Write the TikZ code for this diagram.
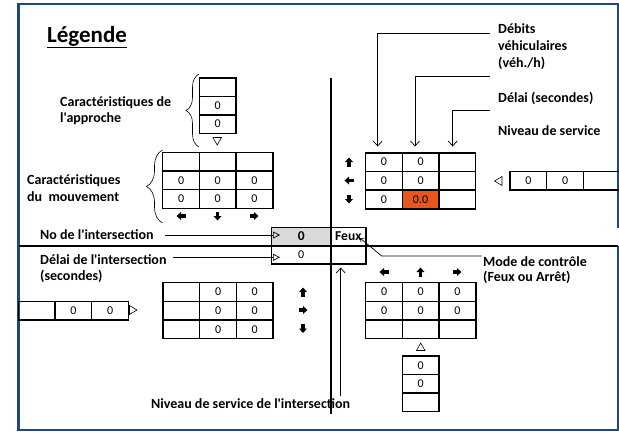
\documentclass[tikz,border=0pt]{standalone}
\usepackage{fontspec}
\setmainfont{Carlito}[Ligatures=TeXOff]
\usetikzlibrary{arrows.meta,decorations.pathreplacing}
\definecolor{frameblue}{RGB}{31,73,125}
\definecolor{cellorange}{RGB}{232,86,30}
\definecolor{cellgray}{RGB}{217,217,217}
\tikzset{
  cellbox/.style={draw, line width=1.4pt, minimum width=36.7pt, minimum height=18.6pt, inner sep=0pt, font=\fontsize{12}{12}\selectfont},
  lbl/.style={font=\bfseries\fontsize{14}{16}\selectfont, anchor=base west, inner sep=0pt},
  road/.style={line width=1.6pt},
  barbarrow/.style={line width=0.7pt, -{Straight Barb[length=5pt,width=9pt]}},
  triarrow/.style={line width=0.7pt, -{Triangle[open,length=7pt,width=7pt]}},
  tri/.style={line width=0.6pt},
  blk/.pic={\fill (-4.5,-1.7) rectangle (0.5,1.7); \fill (0,-4) -- (4.5,0) -- (0,4) -- cycle;},
  bracestyle/.style={line width=0.6pt, decorate}
}
\newcommand{\gridrow}[4]{%
  \foreach \t [count=\i] in {#4} \node[cellbox] (#1\i) at ({#2+36.7*\i-18.35},#3) {\t};}
\begin{document}
\begin{tikzpicture}[x=1pt,y=-1pt]
\useasboundingbox (0,0) rectangle (619,432);
% frame
\draw[frameblue, line width=1.6pt] (618,228) -- (618,4) -- (18,4) -- (18,430) -- (618,430) -- (618,246);
\draw[frameblue, line width=2.6pt] (18.3,4) -- (18.3,430);
% roads
\draw[road] (330.7,78) -- (330.7,414);
\draw[road] (19,245.8) -- (618,245.8);
% title
\node[font=\bfseries\fontsize{23}{26}\selectfont, anchor=base west, inner sep=0pt] (title) at (47,42) {\underline{Légende}};
% legend: approach column
\foreach \t [count=\i] in {{},0,0} \node[cellbox] (ap\i) at (217.7,{78.3+18.33*\i-9.17}) {\t};
\draw[tri] (213,137.5) -- (221.5,137.5) -- (217.2,145) -- cycle;
\draw[bracestyle, decoration={brace, amplitude=13pt}] (199,147) -- (199,74);
\node[lbl] (lap1) at (60,106) {Caractéristiques de};
\node[lbl] (lap2) at (60,122.5) {l'approche};
% legend: movement grid
\gridrow{ul1-}{162.7}{161.8}{{},{},{}}
\gridrow{ul2-}{162.7}{180.4}{0,0,0}
\gridrow{ul3-}{162.7}{199.0}{0,0,0}
\pic[rotate=180] at (181,216) {blk};
\pic[rotate=270] at (217.5,216) {blk};
\pic at (254,216) {blk};
\draw[bracestyle, decoration={brace, amplitude=16pt}] (162.5,223) -- (162.5,150);
\node[lbl] (lmv1) at (27,184.5) {Caractéristiques};
\node[lbl] (lmv2) at (27,201) {du~ mouvement};
% upper right grid
\gridrow{ur1-}{365.5}{162.1}{0,0,{}}
\gridrow{ur2-}{365.5}{180.8}{0,0,{}}
\node[cellbox] (ur3-1) at (383.85,199.5) {0};
\node[cellbox, fill=cellorange] (ur3-2) at (420.55,199.5) {0.0};
\node[cellbox] (ur3-3) at (457.25,199.5) {};
\pic[rotate=90] at (349,162) {blk};
\pic[rotate=180] at (349,180.5) {blk};
\pic[rotate=270] at (349,199) {blk};
% east approach
\draw[tri] (502,176.5) -- (502,185.5) -- (494.5,181) -- cycle;
\gridrow{ea}{510}{180.8}{0,0,{}}
% labels upper right
\node[lbl] (ldeb1) at (498,33) {Débits};
\node[lbl] (ldeb2) at (498,50) {véhiculaires};
\node[lbl] (ldeb3) at (498,67) {(véh./h)};
\node[lbl] (ldel) at (498,102.5) {Délai (secondes)};
\node[lbl] (lniv) at (498,135.5) {Niveau de service};
\coordinate (s1) at (490,33);
\coordinate (s2) at (490,76.7);
\coordinate (s3) at (490,110);
\coordinate (t1) at (377.7,146.5);
\coordinate (t2) at (415,146.5);
\coordinate (t3) at (452.7,146.5);
\draw[barbarrow] (s1) -| (t1);
\draw[barbarrow] (s2) -| (t2);
\draw[barbarrow] (s3) -| (t3);
% central box
\node[cellbox, fill=cellgray, minimum width=59pt, font=\bfseries\fontsize{13.5}{13}\selectfont] (in1) at (301.2,236.5) {0};
\node[cellbox, minimum width=35.3pt, font=\bfseries\fontsize{13.5}{13}\selectfont] (in2) at (348.35,236.5) {Feux};
\node[cellbox, minimum width=59pt] (in3) at (301.2,254.85) {0};
\node[cellbox, minimum width=35.3pt] (in4) at (348.35,254.85) {};
% labels centre
\node[lbl] (lno) at (40,239.5) {No de l'intersection};
\node[lbl] (ldi1) at (40,264) {Délai de l'intersection};
\node[lbl] (ldi2) at (40,280.5) {(secondes)};
\coordinate (a1) at (165,235);
\coordinate (b1) at (280,235);
\coordinate (a2) at (173,257.3);
\coordinate (b2) at (280,257.3);
\draw[triarrow] (a1) -- (b1);
\draw[triarrow] (a2) -- (b2);
\node[lbl] (lmode1) at (483,266) {Mode de contrôle};
\node[lbl] (lmode2) at (483,281.5) {(Feux ou Arrêt)};
\coordinate (m1) at (481.7,256);
\coordinate (m2) at (381.7,256);
\coordinate (m3) at (360,238);
\draw[line width=0.7pt, -{Straight Barb[length=3pt,width=5pt]}] (m1) -- (m2) -- (m3);
% lower left grid
\gridrow{ll1-}{163}{292}{{},0,0}
\gridrow{ll2-}{163}{310.6}{{},0,0}
\gridrow{ll3-}{163}{329.2}{{},0,0}
\pic[rotate=90] at (303,292) {blk};
\pic at (303,310) {blk};
\pic[rotate=270] at (303,328.5) {blk};
% west approach
\gridrow{wa}{18.3}{310.6}{{},0,0}
\draw[tri] (129.5,305.5) -- (129.5,314.5) -- (137,310) -- cycle;
% lower right grid
\gridrow{lr1-}{365.7}{292}{0,0,0}
\gridrow{lr2-}{365.7}{310.6}{0,0,0}
\gridrow{lr3-}{365.7}{329.2}{{},{},{}}
\pic[rotate=180] at (384,272) {blk};
\pic[rotate=90] at (420.5,272) {blk};
\pic at (457,272) {blk};
% south approach
\draw[tri] (416.5,350.5) -- (425,350.5) -- (420.7,343) -- cycle;
\foreach \t [count=\i] in {0,0,{}} \node[cellbox] (sa\i) at (420.7,{356+18.5*\i-9.25}) {\t};
% intersection LOS
\node[lbl] (llos) at (151,408.5) {Niveau de service de l'intersection};
\coordinate (v1) at (340.7,396);
\coordinate (v2) at (340.7,267.5);
\draw[barbarrow] (v1) -- (v2);
\end{tikzpicture}
\end{document}
